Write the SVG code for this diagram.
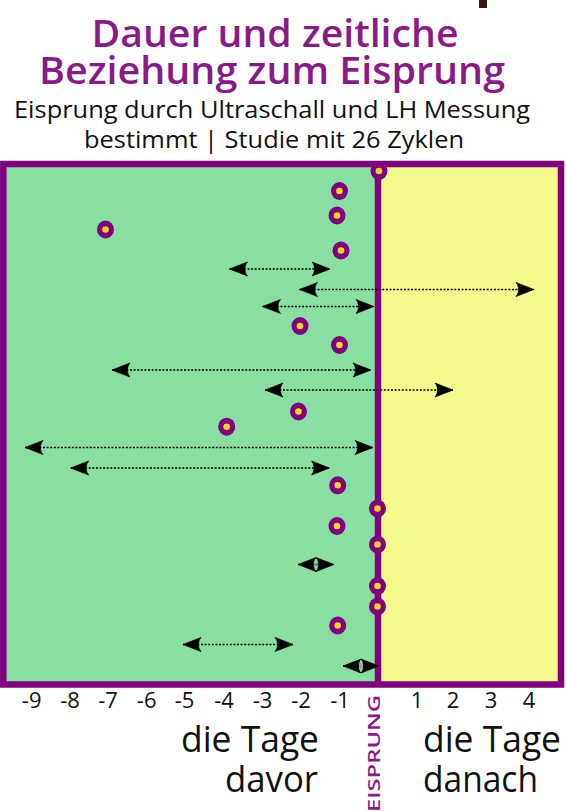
<svg xmlns="http://www.w3.org/2000/svg" width="566" height="811" viewBox="0 0 566 811">
  <style>
    .title { font-family: "Open Sans", "Noto Sans", sans-serif; font-weight: 600; font-size: 37px; fill: #8b1a89; text-anchor: middle; }
    .sub { font-family: "Open Sans", "Noto Sans", sans-serif; font-weight: 500; font-size: 24px; fill: #111; text-anchor: middle; }
    .tick { font-family: "Open Sans", "Noto Sans", sans-serif; font-weight: 500; font-size: 22px; fill: #111; text-anchor: middle; }
    .big { font-family: "Open Sans", "Noto Sans", sans-serif; font-weight: 500; font-size: 36px; fill: #111; }
    .eis { font-family: "Open Sans", "Noto Sans", sans-serif; font-weight: 600; font-size: 17px; fill: #8b1a89; }
    .range { stroke: #000; stroke-width: 1.5; stroke-dasharray: 2 1.6; fill: none; marker-start: url(#head); marker-end: url(#head); }
    .dot-o { fill: #800080; }
    .dot-i { fill: #ffd21f; }
  </style>
  <defs>
    <marker id="head" markerUnits="userSpaceOnUse" viewBox="-19 -8 20 16" refX="0" refY="0" markerWidth="20" markerHeight="16" orient="auto-start-reverse" overflow="visible">
      <path d="M-18,-7 L0,0 L-18,7 C-14.6,3.2 -14.6,-3.2 -18,-7 Z" fill="#000" stroke="#000" stroke-width="0.7" stroke-linejoin="round"/>
    </marker>
    <g id="dot">
      <ellipse class="dot-o" cx="0" cy="0" rx="8.5" ry="9"/>
      <circle class="dot-i" cx="0" cy="0" r="3.3"/>
    </g>
  </defs>

  <rect x="479" y="0" width="8" height="8" fill="#3b1414"/>

  <g id="title">
    <text class="title" x="275" y="47" textLength="367" lengthAdjust="spacingAndGlyphs">Dauer und zeitliche</text>
    <text class="title" x="272" y="84" textLength="466" lengthAdjust="spacingAndGlyphs">Beziehung zum Eisprung</text>
    <text class="sub" x="272" y="118" textLength="516" lengthAdjust="spacingAndGlyphs">Eisprung durch Ultraschall und LH Messung</text>
    <text class="sub" x="274" y="148" textLength="380" lengthAdjust="spacingAndGlyphs">bestimmt | Studie mit 26 Zyklen</text>
  </g>

  <g id="chart">
    <rect x="3.3" y="164" width="374.7" height="520.5" fill="#89dea2"/>
    <rect x="378" y="164" width="182" height="520.5" fill="#f4f98b"/>
    <rect x="3.3" y="164" width="557.7" height="520.5" fill="none" stroke="#800080" stroke-width="6.5"/>
    <line id="ovulation-line" x1="378" y1="164" x2="378" y2="684.5" stroke="#800080" stroke-width="6.5"/>
  </g>

  <g id="connectors">
    <line class="range" x1="229.5" y1="269" x2="330" y2="269"/>
    <line class="range" x1="299.5" y1="289.5" x2="534" y2="289.5"/>
    <line class="range" x1="262.5" y1="306.5" x2="374" y2="306.5"/>
    <line class="range" x1="112" y1="370" x2="371" y2="370"/>
    <line class="range" x1="265" y1="390" x2="453" y2="390"/>
    <line class="range" x1="25" y1="447.5" x2="373" y2="447.5"/>
    <line class="range" x1="70.7" y1="468" x2="329.5" y2="468"/>
    <line class="range" x1="298" y1="564.5" x2="334" y2="564.5"/>
    <ellipse cx="316" cy="564.5" rx="1.5" ry="1.8" fill="#8a8a8a"/>
    <line class="range" x1="183" y1="644.5" x2="293" y2="644.5"/>
    <line class="range" x1="343" y1="666" x2="379" y2="666"/>
    <ellipse cx="361" cy="666" rx="2" ry="3" fill="#a0a0a0"/>
  </g>

  <g id="cycles">
    <use href="#dot" x="379" y="171"/>
    <use href="#dot" x="339.5" y="191"/>
    <use href="#dot" x="337" y="215.5"/>
    <use href="#dot" x="105.5" y="229.5"/>
    <use href="#dot" x="341" y="250.5"/>
    <use href="#dot" x="300" y="326"/>
    <use href="#dot" x="339.5" y="345"/>
    <use href="#dot" x="298.5" y="411.5"/>
    <use href="#dot" x="226.7" y="426.7"/>
    <use href="#dot" x="337.7" y="485.3"/>
    <use href="#dot" x="377.5" y="508.5"/>
    <use href="#dot" x="337" y="526"/>
    <use href="#dot" x="377.5" y="544.5"/>
    <use href="#dot" x="377.5" y="586"/>
    <use href="#dot" x="377.5" y="606.5"/>
    <use href="#dot" x="337.7" y="625.5"/>
  </g>

  <g id="axis">
    <text class="tick" x="31.7" y="708">-9</text>
    <text class="tick" x="70" y="708">-8</text>
    <text class="tick" x="108" y="708">-7</text>
    <text class="tick" x="146.7" y="708">-6</text>
    <text class="tick" x="184.5" y="708">-5</text>
    <text class="tick" x="224" y="708">-4</text>
    <text class="tick" x="262.5" y="708">-3</text>
    <text class="tick" x="301" y="708">-2</text>
    <text class="tick" x="340" y="708">-1</text>
    <text class="tick" x="417" y="708">1</text>
    <text class="tick" x="453" y="708">2</text>
    <text class="tick" x="491" y="708">3</text>
    <text class="tick" x="529" y="708">4</text>
    <text class="eis" transform="translate(380,812) rotate(-90)" x="0" y="0" textLength="117" lengthAdjust="spacingAndGlyphs">EISPRUNG</text>
  </g>

  <g id="labels">
    <text class="big" x="319" y="752" text-anchor="end" textLength="138" lengthAdjust="spacingAndGlyphs">die Tage</text>
    <text class="big" x="318" y="792" text-anchor="end" textLength="93" lengthAdjust="spacingAndGlyphs">davor</text>
    <text class="big" x="423" y="752" textLength="138" lengthAdjust="spacingAndGlyphs">die Tage</text>
    <text class="big" x="423" y="792" textLength="115" lengthAdjust="spacingAndGlyphs">danach</text>
  </g>
</svg>
